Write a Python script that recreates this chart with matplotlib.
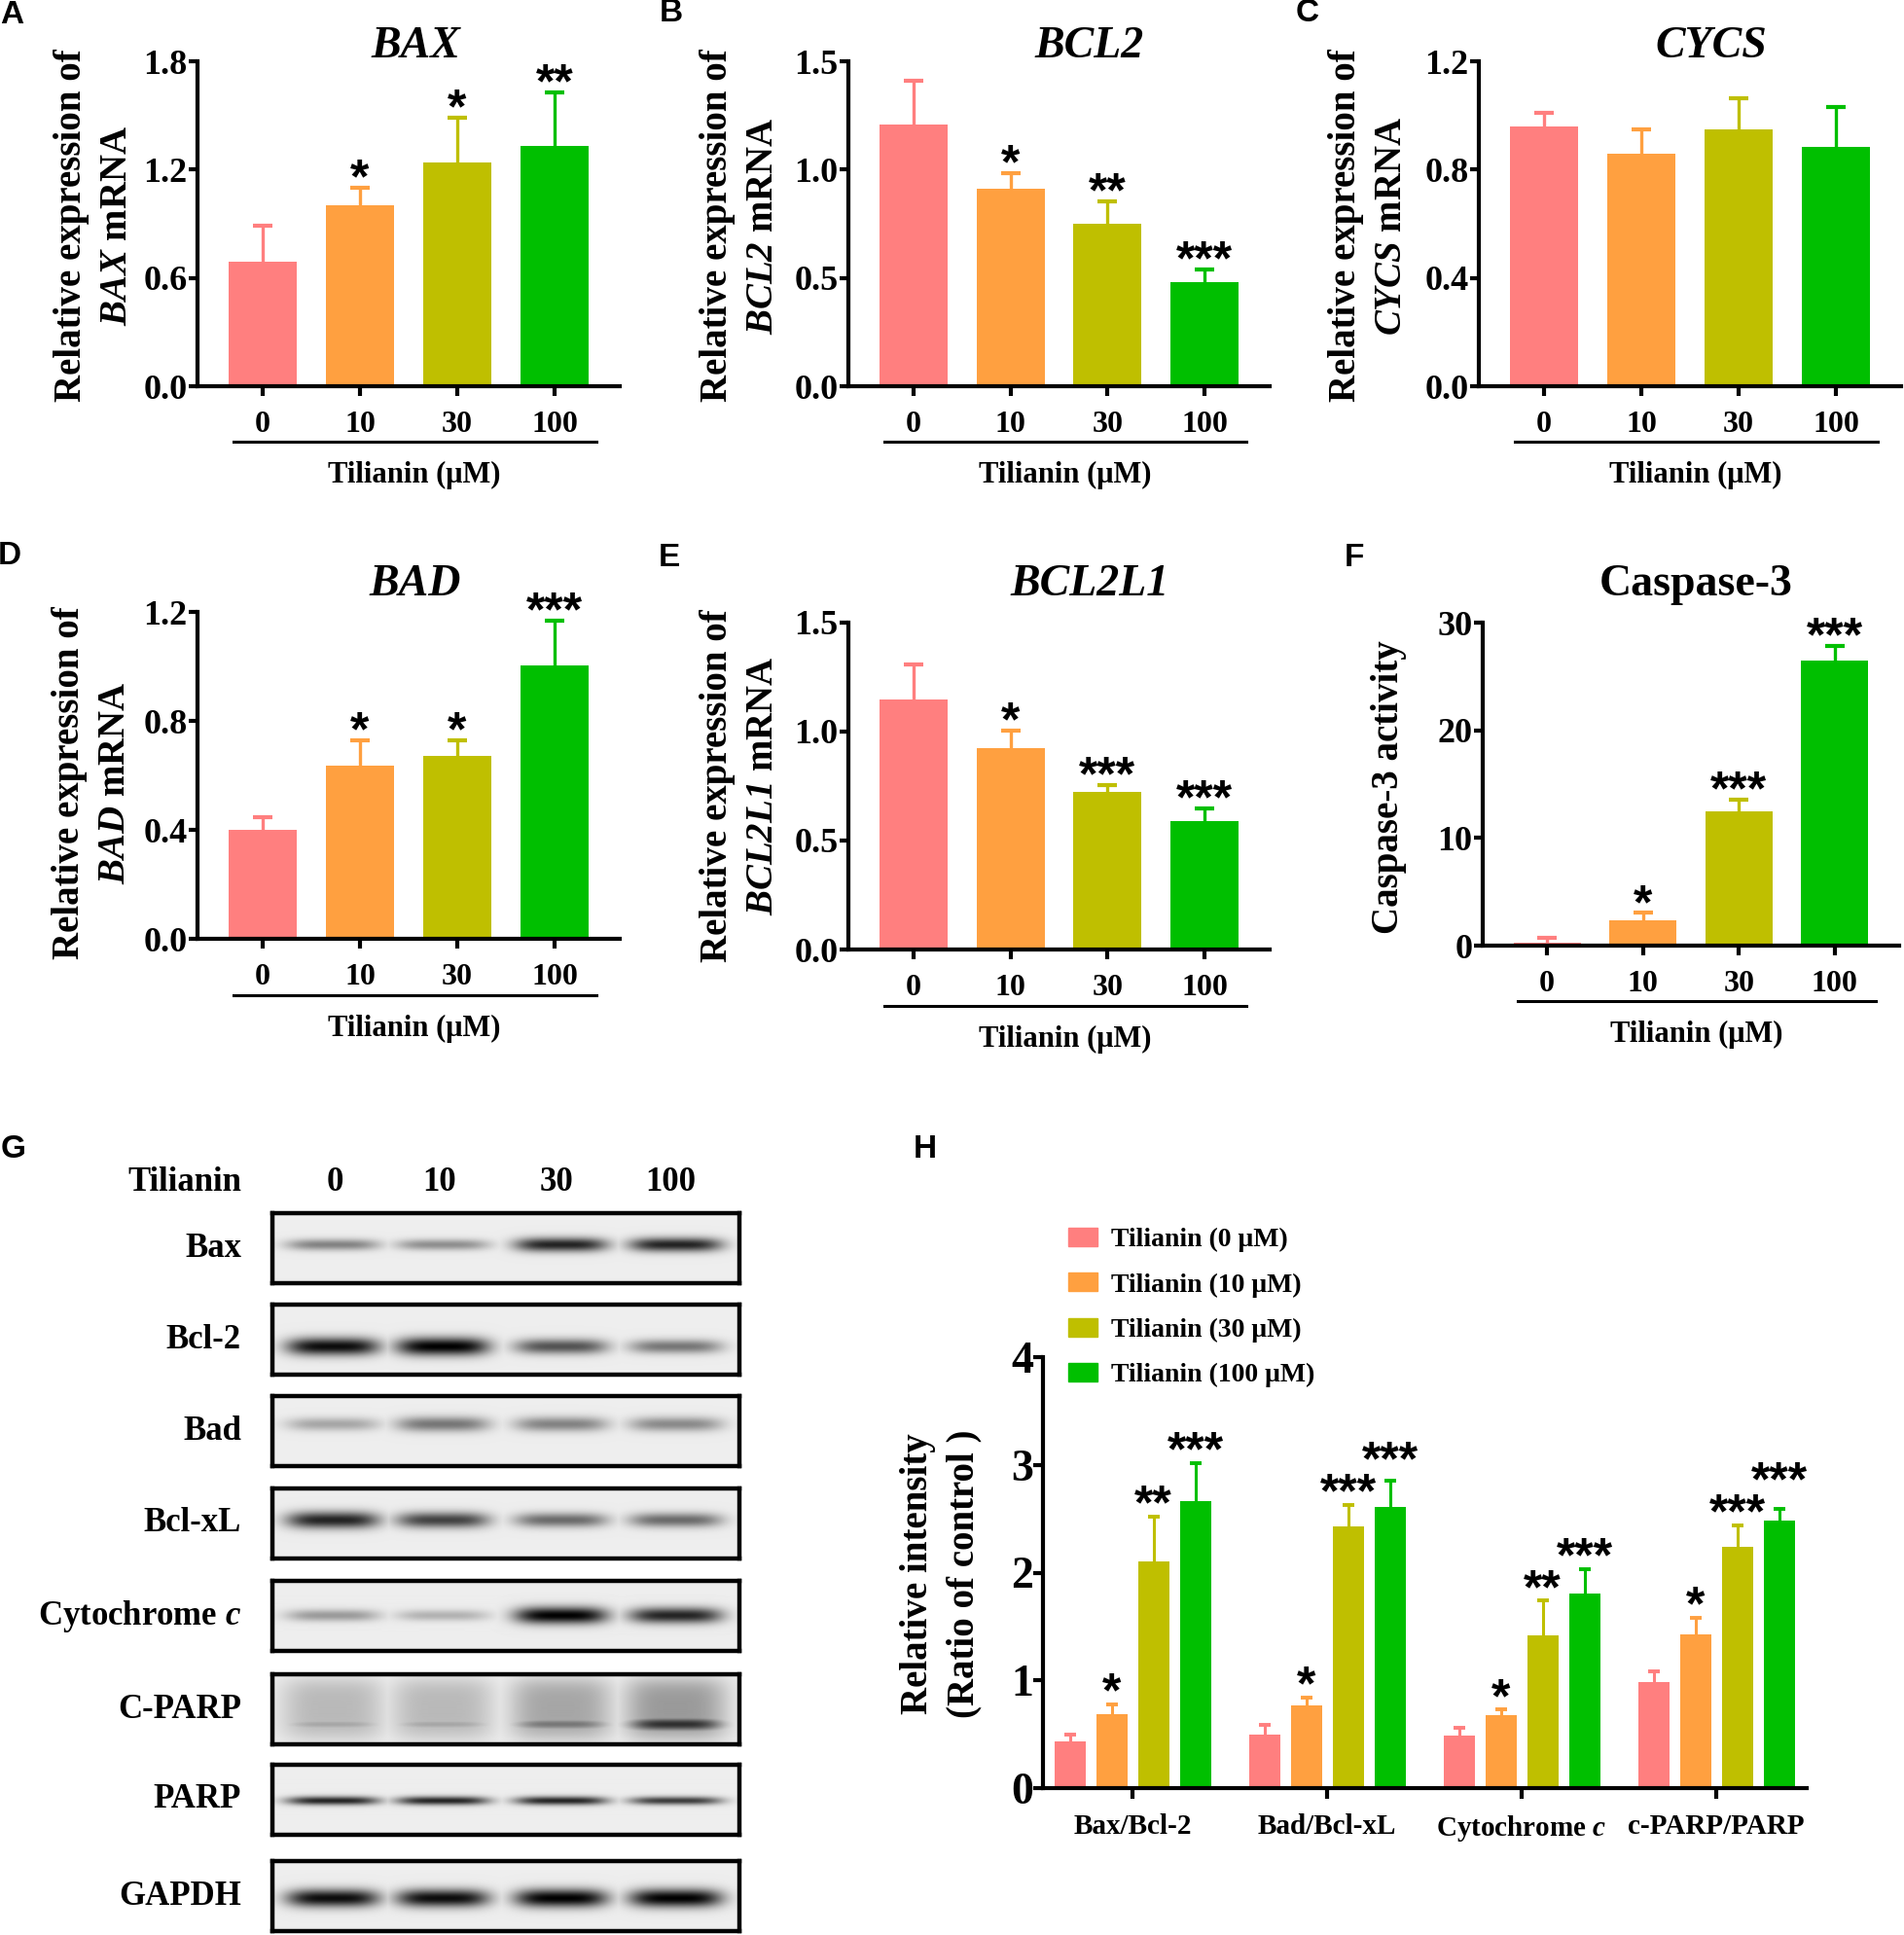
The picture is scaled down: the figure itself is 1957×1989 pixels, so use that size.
import numpy as np
import matplotlib
matplotlib.use('Agg')
import matplotlib.pyplot as plt
from matplotlib.patches import Patch

plt.rcParams['font.family'] = 'Liberation Serif'
plt.rcParams['font.weight'] = 'bold'
plt.rcParams['mathtext.fontset'] = 'custom'
# italic gene names (digits inside \mathit fall back to rm, so rm is italic too)
plt.rcParams['mathtext.it'] = 'Liberation Serif:italic:bold'
plt.rcParams['mathtext.rm'] = 'Liberation Serif:italic:bold'
plt.rcParams['mathtext.bf'] = 'Liberation Serif:italic:bold'

# ---------------- data ----------------
doses = ['0', '10', '30', '100']
dose_colors = ['#FF7F7F', '#FFA040', '#BFBF00', '#00BF00']

# A  BAX mRNA
bax_mean = [0.69, 1.00, 1.24, 1.33]
bax_err = [0.20, 0.10, 0.25, 0.30]
bax_sig = ['', '*', '*', '**']
# B  BCL2 mRNA
bcl2_mean = [1.21, 0.91, 0.75, 0.48]
bcl2_err = [0.20, 0.075, 0.105, 0.06]
bcl2_sig = ['', '*', '**', '***']
# C  CYCS mRNA
cycs_mean = [0.96, 0.86, 0.95, 0.885]
cycs_err = [0.05, 0.09, 0.115, 0.145]
cycs_sig = ['', '', '', '']
# D  BAD mRNA
bad_mean = [0.40, 0.636, 0.673, 1.005]
bad_err = [0.048, 0.092, 0.055, 0.162]
bad_sig = ['', '*', '*', '***']
# E  BCL2L1 mRNA
bcl2l1_mean = [1.147, 0.926, 0.724, 0.588]
bcl2l1_err = [0.161, 0.079, 0.032, 0.06]
bcl2l1_sig = ['', '*', '***', '***']
# F  caspase-3 activity
casp3_mean = [0.28, 2.32, 12.49, 26.52]
casp3_err = [0.44, 0.72, 1.10, 1.35]
casp3_sig = ['', '*', '***', '***']

# G  western blot band darkness (0 = none, 1 = black), lanes 0/10/30/100
blot_names = ['Bax', 'Bcl-2', 'Bad', 'Bcl-xL', r'Cytochrome $c$', 'C-PARP', 'PARP', 'GAPDH']
band_bax = [0.45, 0.40, 0.85, 0.85]
band_bcl2 = [0.95, 1.00, 0.65, 0.50]
band_bad = [0.30, 0.50, 0.45, 0.42]
band_bclxl = [0.85, 0.72, 0.55, 0.55]
band_cytc = [0.35, 0.25, 1.00, 0.85]
band_cparp = [0.30, 0.30, 0.50, 0.80]
band_parp = [0.85, 0.85, 0.85, 0.75]
band_gapdh = [0.95, 0.95, 1.00, 1.00]
smear_cparp = [0.22, 0.22, 0.30, 0.35]

# H  protein ratios (ratio of control)
ratio_groups = ['Bax/Bcl-2', 'Bad/Bcl-xL', r'Cytochrome $c$', 'c-PARP/PARP']
ratio_0 = [0.43, 0.50, 0.49, 0.98]
ratio_10 = [0.685, 0.77, 0.68, 1.43]
ratio_30 = [2.10, 2.43, 1.42, 2.24]
ratio_100 = [2.66, 2.61, 1.81, 2.48]
ratio_err_0 = [0.07, 0.09, 0.07, 0.10]
ratio_err_10 = [0.095, 0.07, 0.05, 0.15]
ratio_err_30 = [0.42, 0.20, 0.32, 0.20]
ratio_err_100 = [0.36, 0.24, 0.22, 0.11]
ratio_sig_0 = ['', '', '', '']
ratio_sig_10 = ['*', '*', '*', '*']
ratio_sig_30 = ['**', '***', '**', '***']
ratio_sig_100 = ['***', '***', '***', '***']

# ---------------- layout helpers (pixel coords, origin top-left) ----------------
W, H = 1958, 1989
fig = plt.figure(figsize=(W / 100, H / 100), dpi=100)


def px_axes(x0, y0, x1, y1):
    return fig.add_axes([x0 / W, 1 - y1 / H, (x1 - x0) / W, (y1 - y0) / H])


def fig_text(x, y, s, **kw):
    return fig.text(x / W, 1 - y / H, s, **kw)


def star(ax, x, y, s, size=36, dy=-4):
    ax.annotate(s, (x, y), xytext=(0, dy), textcoords='offset points',
                ha='center', va='baseline', fontsize=size,
                family='Liberation Sans', weight='bold', annotation_clip=False)


def up_errorbar(ax, x, y, e, color, capsize=7, lw=2.4):
    eb = ax.errorbar(x, y, yerr=[[0], [e]], fmt='none', ecolor=color,
                     elinewidth=lw, capsize=capsize, capthick=lw + 0.6, zorder=1)
    # keep only the upper cap
    for cap in eb.lines[1]:
        if np.allclose(cap.get_ydata(), y):
            cap.set_visible(False)


def style_axes(ax):
    for s in ['top', 'right']:
        ax.spines[s].set_visible(False)
    for s in ['left', 'bottom']:
        ax.spines[s].set_linewidth(3)


def bar_panel(box, means, errs, sigs, ymax, yticks, yticklabels):
    ax = px_axes(*box)
    x = np.arange(len(doses))
    ax.bar(x, means, width=0.7, color=dose_colors, zorder=2)
    for i in range(len(x)):
        up_errorbar(ax, x[i], means[i], errs[i], dose_colors[i])
        if sigs[i]:
            star(ax, x[i], means[i] + errs[i], sigs[i])
    ax.set_xlim(-0.67, 3.67)
    ax.set_ylim(0, ymax)
    ax.set_xticks(x)
    ax.set_xticklabels(doses)
    ax.set_yticks(yticks)
    ax.set_yticklabels(yticklabels)
    style_axes(ax)
    ax.tick_params(axis='x', width=3, length=7, pad=11, labelsize=23)
    ax.tick_params(axis='y', width=3, length=6.5, pad=1, labelsize=26)
    tr = ax.get_xaxis_transform()
    ax.plot([-0.3, 3.43], [-0.172, -0.172], transform=tr, clip_on=False,
            color='black', lw=2.2)
    ax.text(1.56, -0.275, 'Tilianin (μM)', transform=tr, ha='center',
            va='center', fontsize=22)
    return ax


# ---------------- panels A-F ----------------
bar_panel((203, 63, 637, 397), bax_mean, bax_err, bax_sig, 1.8,
          [0, 0.6, 1.2, 1.8], ['0.0', '0.6', '1.2', '1.8'])
bar_panel((872, 63, 1305, 397), bcl2_mean, bcl2_err, bcl2_sig, 1.5,
          [0, 0.5, 1.0, 1.5], ['0.0', '0.5', '1.0', '1.5'])
bar_panel((1520, 63, 1954, 397), cycs_mean, cycs_err, cycs_sig, 1.2,
          [0, 0.4, 0.8, 1.2], ['0.0', '0.4', '0.8', '1.2'])
bar_panel((203, 629, 637, 965), bad_mean, bad_err, bad_sig, 1.2,
          [0, 0.4, 0.8, 1.2], ['0.0', '0.4', '0.8', '1.2'])
bar_panel((872, 640, 1305, 976), bcl2l1_mean, bcl2l1_err, bcl2l1_sig, 1.5,
          [0, 0.5, 1.0, 1.5], ['0.0', '0.5', '1.0', '1.5'])
bar_panel((1524, 640, 1952, 972), casp3_mean, casp3_err, casp3_sig, 30,
          [0, 10, 20, 30], ['0', '10', '20', '30'])

# titles
ttl = dict(fontsize=33, ha='center', va='center')
fig_text(427, 48, 'BAX', style='italic', **ttl)
fig_text(1120, 48, 'BCL2', style='italic', **ttl)
fig_text(1759, 48, 'CYCS', style='italic', **ttl)
fig_text(427, 601, 'BAD', style='italic', **ttl)
fig_text(1120, 601, 'BCL2L1', style='italic', **ttl)
fig_text(1743, 601, 'Caspase-3', **ttl)

# y labels
ylab = dict(rotation=90, ha='center', va='center', fontsize=28)
for xl, yc, gene in [(74, 232, 'BAX'), (738, 232, 'BCL2'), (1384, 232, 'CYCS'),
                     (72, 805, 'BAD'), (738, 808, 'BCL2L1')]:
    fig_text(xl, yc, 'Relative expression of', **ylab)
    fig_text(xl + 47, yc, r'$\mathit{%s}$ mRNA' % gene, **ylab)
fig_text(1428, 809, 'Caspase-3 activity', rotation=90, ha='center',
         va='center', fontsize=28)

# ---------------- panel G: western blots ----------------
lane_px = [342, 455, 577, 695]
blot_left, blot_right, blot_h = 280, 760, 72
blot_tops = [1247, 1341, 1435, 1530, 1625, 1721, 1814, 1913]
blot_levels = [band_bax, band_bcl2, band_bad, band_bclxl, band_cytc,
               band_cparp, band_parp, band_gapdh]
band_ypos = [0.45, 0.60, 0.40, 0.45, 0.50, 0.72, 0.52, 0.53]
band_thick = [0.10, 0.12, 0.13, 0.12, 0.11, 0.10, 0.06, 0.12]


def blot_image(levels, ypos, thick, smear=None):
    yy = np.linspace(0, 1, 72)[:, None]
    xx = np.linspace(0, 1, 480)[None, :]
    dark = np.zeros((72, 480))
    for i, lv in enumerate(levels):
        xc = (lane_px[i] - blot_left) / (blot_right - blot_left)
        px = np.exp(-np.abs((xx - xc) / 0.1) ** 4)
        py = np.exp(-((yy - ypos) / (thick * (0.6 + 0.5 * lv))) ** 2)
        dark = np.maximum(dark, lv * px * py)
        if smear is not None:
            sy = np.exp(-((yy - 0.5) / 0.45) ** 4)
            dark = np.maximum(dark, smear[i] * np.exp(-np.abs((xx - xc) / 0.11) ** 4) * sy)
    return 0.93 * (1 - dark)


for k, name in enumerate(blot_names):
    top = blot_tops[k]
    ax = px_axes(blot_left, top, blot_right, top + blot_h)
    img = blot_image(blot_levels[k], band_ypos[k], band_thick[k],
                     smear_cparp if name == 'C-PARP' else None)
    ax.imshow(img, cmap='gray', vmin=0, vmax=1, aspect='auto',
              extent=(0, 1, 1, 0), interpolation='bilinear')
    ax.set_xticks([])
    ax.set_yticks([])
    for s in ax.spines.values():
        s.set_linewidth(3.2)
    fig_text(248, top + blot_h / 2, name, ha='right', va='center', fontsize=25)

fig_text(248, 1215, 'Tilianin', ha='right', va='center', fontsize=25)
for xp, d in zip([344, 452, 572, 689], doses):
    fig_text(xp, 1215, d, ha='center', va='center', fontsize=25)

# ---------------- panel H: ratios ----------------
axh = px_axes(1072, 1395, 1857, 1838)
g = np.arange(len(ratio_groups))
offsets = np.array([-1.5, -0.5, 0.5, 1.5]) * 0.215
h_means = [ratio_0, ratio_10, ratio_30, ratio_100]
h_errs = [ratio_err_0, ratio_err_10, ratio_err_30, ratio_err_100]
h_sigs = [ratio_sig_0, ratio_sig_10, ratio_sig_30, ratio_sig_100]
for j in range(len(doses)):
    xs = g + offsets[j]
    axh.bar(xs, h_means[j], width=0.16, color=dose_colors[j], zorder=2)
    for i in range(len(g)):
        up_errorbar(axh, xs[i], h_means[j][i], h_errs[j][i], dose_colors[j],
                    capsize=4, lw=2.2)

# stars: stack above the neighbour on the left when they would collide
for i in range(len(g)):
    prev = None
    for j in range(len(doses)):
        if not h_sigs[j][i]:
            continue
        base = h_means[j][i] + h_errs[j][i]
        if prev is not None and base < prev + 0.30:
            base = prev + 0.30
        star(axh, g[i] + offsets[j], base, h_sigs[j][i], size=36, dy=-2)
        prev = base

axh.set_xlim(-0.46, 3.465)
axh.set_ylim(0, 4)
axh.set_xticks(g)
axh.set_xticklabels(ratio_groups)
axh.set_yticks([0, 1, 2, 3, 4])
style_axes(axh)
axh.tick_params(axis='x', width=3, length=8, pad=11, labelsize=21)
axh.tick_params(axis='y', width=3, length=7, pad=0, labelsize=33)
fig_text(944, 1618, 'Relative intensity', rotation=90, ha='center',
         va='center', fontsize=28)
fig_text(991, 1618, '(Ratio of control )', rotation=90, ha='center',
         va='center', fontsize=28)

handles = [Patch(color=c) for c in dose_colors]
labels = ['Tilianin (%s μM)' % d for d in doses]
fig.legend(handles, labels, loc='upper left',
           bbox_to_anchor=(1098 / W, 1 - 1262 / H), frameon=False,
           fontsize=20, handlelength=1.08, handleheight=0.68,
           handletextpad=0.5, labelspacing=0.76, borderpad=0,
           borderaxespad=0)

# panel letters
for letter, xp, yp in [('A', 12, 15), ('B', 690, 14), ('C', 1344, 14),
                       ('D', 10, 571), ('E', 688, 573), ('F', 1392, 573),
                       ('G', 14, 1181), ('H', 951, 1181)]:
    fig_text(xp, yp, letter, family='Liberation Sans', weight='bold',
             fontsize=24, ha='center', va='center')

fig.savefig('out.png', dpi=100)
